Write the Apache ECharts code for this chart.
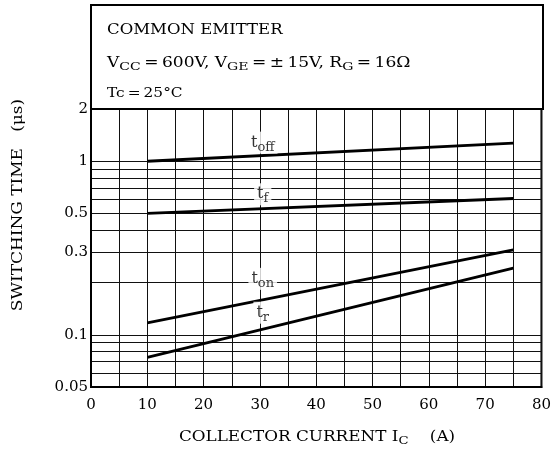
<!DOCTYPE html>
<html><head><meta charset="utf-8">
<script src="https://cdn.jsdelivr.net/npm/echarts@6/dist/echarts.min.js"></script>
<style>html,body{margin:0;padding:0;background:#fff}#c{width:554px;height:455px}</style>
</head><body><div id="c"></div>
<script>
// ---- data ----
const currents = [10, 75];            // collector current IC (A)
const tOff = [1.0, 1.27];             // μs
const tF   = [0.5, 0.61];
const tOn  = [0.117, 0.308];
const tR   = [0.074, 0.242];
const curveSubs = ['off', 'f', 'on', 'r'];
const labelX = [30.5, 30.5, 30.5, 30.5];
const labelY = [1.28, 0.645, 0.21, 0.134];
const xTicks = [0, 10, 20, 30, 40, 50, 60, 70, 80];
const yLabelTicks = [0.05, 0.1, 0.3, 0.5, 1, 2];
const yGridTicks = [0.05, 0.06, 0.07, 0.08, 0.09, 0.1, 0.2, 0.3, 0.4, 0.5, 0.6, 0.7, 0.8, 0.9, 1, 2];

const FONT = 'DejaVu Serif';
const SX = 1.18;  // horizontal stretch to mimic the wide original typeface
const chart = echarts.init(document.getElementById('c'), null, {renderer: 'canvas'});

function pairs(ys) { return currents.map((x, i) => [x, ys[i]]); }
const curves = [tOff, tF, tOn, tR];

const lineSeries = curves.map(ys => ({
  type: 'line', data: pairs(ys), symbol: 'none', silent: true,
  lineStyle: {color: '#000', width: 2.8}, z: 3
}));

const labelSeries = {
  type: 'scatter', symbolSize: 0, silent: true, z: 5,
  data: labelX.map((x, i) => ({value: [x, labelY[i]], sub: curveSubs[i]})),
  label: {
    show: true, position: 'inside', backgroundColor: '#fff', padding: [0, 3, 0, 3],
    formatter: p => '{t|t}{s|' + p.data.sub + '}',
    rich: {
      t: {fontFamily: FONT, fontSize: 16, color: '#000'},
      s: {fontFamily: FONT, fontSize: 13, color: '#000', padding: [9, 0, 0, 0]}
    }
  }
};

const richN = (fs) => ({fontFamily: FONT, fontSize: fs, color: '#000'});
const richS = (fs, pad) => ({fontFamily: FONT, fontSize: fs, color: '#000', padding: [pad, 0, 0, 0]});
const th = '\u2009';

chart.setOption({
  animation: false,
  backgroundColor: '#fff',
  grid: {left: 91, right: 11, top: 109, bottom: 68, show: true, borderColor: '#000', borderWidth: 2, backgroundColor: 'transparent'},
  xAxis: {
    type: 'value', min: 0, max: 80, interval: 5,
    axisLine: {show: true, lineStyle: {color: '#000', width: 2}},
    axisTick: {show: false},
    axisLabel: {
      fontFamily: FONT, fontSize: 15, color: '#000', margin: 11,
      formatter: v => xTicks.indexOf(v) >= 0 ? String(v) : ''
    },
    splitLine: {show: true, lineStyle: {color: '#111', width: 1}}
  },
  yAxis: {
    type: 'log', logBase: 10, min: 0.05, max: 2,
    axisLine: {show: true, lineStyle: {color: '#000', width: 2}},
    axisTick: {show: false, customValues: yGridTicks},
    axisLabel: {
      fontFamily: FONT, fontSize: 15, color: '#000', margin: 3,
      customValues: yLabelTicks,
      formatter: v => String(+v.toPrecision(3))
    },
    splitLine: {show: true, lineStyle: {color: '#111', width: 1}}
  },
  graphic: [
    {type: 'rect', shape: {x: 91, y: 5, width: 452, height: 104}, style: {fill: 'none', stroke: '#000', lineWidth: 2}, z: 10},
    {type: 'text', x: 107, y: 30, scaleX: SX, style: {text: 'COMMON EMITTER', fontFamily: FONT, fontSize: 14, color: '#000', verticalAlign: 'middle'}},
    {type: 'text', x: 107, y: 63, scaleX: 1.22, style: {
      text: '{n|V}{s|CC}{n|' + th + '=' + th + '600V, V}{s|GE}{n|' + th + '=' + th + '±' + th + '15V, R}{s|G}{n|' + th + '=' + th + '16Ω}',
      verticalAlign: 'middle',
      rich: {n: richN(14), s: richS(11.5, 8)}
    }},
    {type: 'text', x: 107, y: 94, scaleX: SX, style: {text: 'Tc' + th + '=' + th + '25°C', fontFamily: FONT, fontSize: 13, color: '#000', verticalAlign: 'middle'}},
    {type: 'text', x: 18, y: 205, rotation: Math.PI / 2, scaleX: 1.17, style: {
      text: 'SWITCHING TIME   (μs)', fontFamily: FONT, fontSize: 14.5, color: '#000',
      align: 'center', verticalAlign: 'middle'
    }},
    {type: 'text', x: 317, y: 437, scaleX: 1.2, style: {
      text: '{n|COLLECTOR CURRENT I}{s|C}{n|    (A)}',
      align: 'center', verticalAlign: 'middle',
      rich: {n: richN(14), s: richS(11, 9)}
    }}
  ],
  series: lineSeries.concat([labelSeries])
});
</script></body></html>
